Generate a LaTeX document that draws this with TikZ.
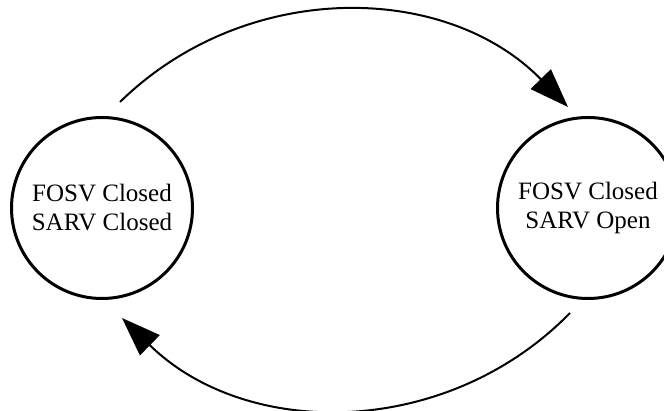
\documentclass[tikz,border=0pt]{standalone}
\usepackage{fontspec}
\setmainfont{Liberation Serif}
\usetikzlibrary{arrows.meta}

\tikzset{
  state/.style={circle, draw=black, line width=3pt, minimum size=181pt,
    inner sep=0pt, align=center, font=\fontsize{25}{29}\selectfont},
  transition/.style={line width=2pt,
    -{Triangle[length=39pt, width=28pt]}},
}

\begin{document}
\begin{tikzpicture}[x=1pt, y=1pt]
  \useasboundingbox (0,0) rectangle (664,411);

  % the two valve states
  \node[state] (closed) at (102,203) {FOSV Closed\\SARV Closed};
  \node[state] (open)   at (588,203) {FOSV Closed\\SARV Open};

  % free ends of the transition arcs
  \coordinate (t1s) at (120,309);
  \coordinate (t1e) at (568,304);
  \coordinate (t2s) at (570,98);
  \coordinate (t2e) at (122,93);

  % transitions between the states
  \draw[transition] (t1s) to[bend left=45] (t1e);
  \draw[transition] (t2s) to[bend left=45] (t2e);
\end{tikzpicture}
\end{document}
